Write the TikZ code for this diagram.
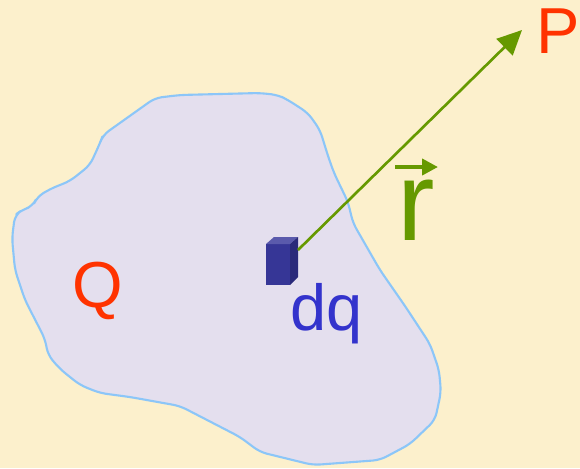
\documentclass[tikz,border=0pt]{standalone}
\usepackage{fontspec}
\setmainfont{Liberation Sans}
\usepackage{xcolor}
\usetikzlibrary{arrows.meta}
\definecolor{paper}{HTML}{FCF0CC}
\definecolor{cloud}{HTML}{E4DFEE}
\definecolor{rim}{HTML}{8CC6F8}
\definecolor{hot}{HTML}{FF3300}
\definecolor{charge}{HTML}{3333CC}
\definecolor{leaf}{HTML}{669900}
\definecolor{boxfront}{HTML}{363696}
\definecolor{boxtop}{HTML}{5A5AAC}
\definecolor{boxside}{HTML}{2A2A7A}

\begin{document}
\begin{tikzpicture}[x=0.02cm, y=-0.02cm,
  label/.style={inner sep=0pt, anchor=base, font=\fontsize{37}{40}\selectfont}]
  \fill[paper] (0,0) rectangle (580,468);
  \useasboundingbox (0,0) rectangle (580,468);
  % charged body
  \draw[rim, fill=cloud, line width=1.2pt, line join=round, rounded corners=4pt]
    (155,98) -- (180,95) -- (260,93) -- (278,95) -- (288,100) -- (308,113)
    -- (320,130) -- (328,156) -- (334,173) -- (348,202) -- (353,223)
    -- (380,270) -- (405,306) -- (430,344) -- (439,370) -- (441,392)
    -- (435,420) -- (410,444) -- (380,460) -- (313,465) -- (260,452)
    -- (240,437) -- (180,406) -- (130,397) -- (100,393) -- (80,385)
    -- (60,369) -- (48,355) -- (45,339) -- (25,300) -- (15,270)
    -- (12,238) -- (15,215) -- (22,210) -- (33,206) -- (37,197)
    -- (50,189) -- (70,181) -- (90,165) -- (100,143) -- (103,135) -- cycle;
  % small element dq
  \fill[boxfront] (266,244) rectangle (290,285);
  \fill[boxtop] (266,244) -- (274,237) -- (298,237) -- (290,244) -- cycle;
  \fill[boxside] (290,244) -- (298,237) -- (298,277) -- (290,285) -- cycle;
  \coordinate (src) at (298,250);
  \coordinate (tip) at (522,30);
  \node[label, text=hot] (P) at (558,53) {P};
  \node[label, text=hot] (Q) at (98,307) {Q};
  \node[label, text=charge] (dq) at (327,330) {dq};
  \node[inner sep=0pt, anchor=base, text=leaf, font=\fontsize{64}{70}\selectfont] (r) at (416,240) {r};
  \coordinate (rl) at (395,167);
  \coordinate (rr) at (438,167);
  \draw[leaf, line width=1.5pt, -{Triangle[length=14pt, width=13pt]}] (src) -- (tip);
  \draw[leaf, line width=2.2pt, -{Triangle[length=9pt, width=9pt]}] (rl) -- (rr);
\end{tikzpicture}
\end{document}
